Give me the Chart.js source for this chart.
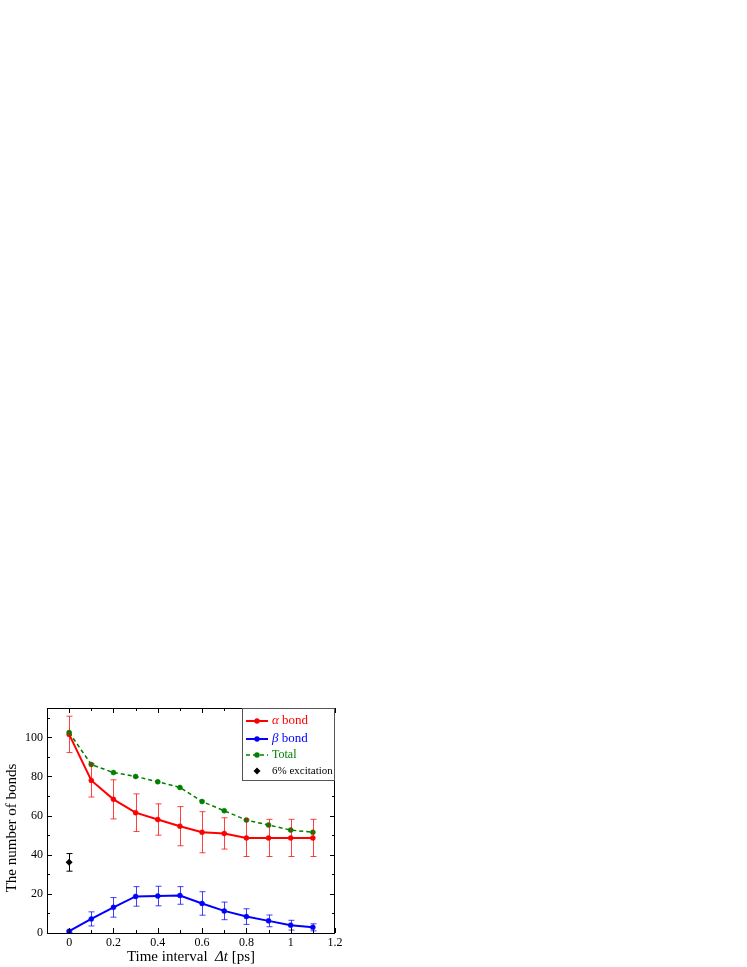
<!DOCTYPE html>
<html><head><meta charset="utf-8">
<script src="https://cdn.jsdelivr.net/npm/chart.js@4"></script>
<style>html,body{margin:0;padding:0;background:#fff}#c{position:absolute;left:0;top:0}</style>
</head><body><canvas id="c" width="747" height="967"></canvas>
<script>
// time interval [ps]
const dt=[0,0.1,0.2,0.3,0.4,0.5,0.6,0.7,0.8,0.9,1.0,1.1];
const alphaBond=[101.5,78,68.3,61.5,58,54.6,51.5,50.9,48.6,48.6,48.6,48.6];
const alphaErr=[9.3,8.5,10,9.6,8,10,10.5,8,9.5,9.5,9.5,9.5];
const betaBond=[0.9,7.2,13.1,18.7,18.9,19.2,15.1,11.3,8.4,6.2,4.0,2.9];
const betaErr=[0.5,3.6,5,5,5,4.5,6,4.5,4,3,2.5,1.8];
const totalBond=[102.5,86.1,82,80,77.3,74.4,67.2,62.5,57.7,55.2,52.6,51.5];
const excDt=[0],excVal=[36.1],excErr=[4.5];

const SERIF='"Liberation Serif","Times New Roman",serif';
const pts=(xs,ys)=>xs.map((x,i)=>({x,y:ys[i]}));

const errBars={
  id:'errBars',
  afterDatasetsDraw(ch){
    const {ctx,scales:{x,y}}=ch;
    ch.data.datasets.forEach(ds=>{
      if(!ds.err)return;
      ctx.save();ctx.strokeStyle=ds.errColor;ctx.lineWidth=1;
      ds.data.forEach((p,i)=>{
        const px=Math.round(x.getPixelForValue(p.x))+0.5;
        const y1=y.getPixelForValue(p.y+ds.err[i]),y2=y.getPixelForValue(p.y-ds.err[i]);
        ctx.beginPath();
        ctx.moveTo(px,y1);ctx.lineTo(px,y2);
        ctx.moveTo(px-3,y1);ctx.lineTo(px+3,y1);
        ctx.moveTo(px-3,y2);ctx.lineTo(px+3,y2);
        ctx.stroke();
      });
      ctx.restore();
    });
  }
};

const frame={
  id:'frame',
  afterDraw(ch){
    const {ctx,chartArea:a,scales:{x,y}}=ch;
    ctx.save();
    ctx.strokeStyle='#000';ctx.lineWidth=1;
    ctx.strokeRect(a.left+0.5,a.top+0.5,a.right-a.left-1,a.bottom-a.top);
    ctx.beginPath();
    for(let v=0;v<=12;v++){
      const px=Math.round(x.getPixelForValue(v/10))+0.5,len=v%2?3:5;
      ctx.moveTo(px,a.bottom);ctx.lineTo(px,a.bottom-len);
      ctx.moveTo(px,a.top);ctx.lineTo(px,a.top+len);
    }
    for(let v=0;v<=110;v+=10){
      const py=Math.round(y.getPixelForValue(v))+0.5,len=v%20?3:5;
      ctx.moveTo(a.left,py);ctx.lineTo(a.left+len,py);
      ctx.moveTo(a.right,py);ctx.lineTo(a.right-len,py);
    }
    ctx.stroke();

    // legend
    const L=242,T=708,R=335,B=780;
    ctx.fillStyle='#fff';ctx.fillRect(L,T,R-L,B-T);
    ctx.strokeStyle='#555';ctx.strokeRect(L+0.5,T+0.5,R-L-1,B-T);
    const items=[
      {g:'α',t:' bond',c:'#ff0000',ds:0,row:721,fs:13},
      {g:'β',t:' bond',c:'#0000ff',ds:1,row:739,fs:13},
      {g:'',t:'Total',c:'#008000',ds:2,row:755,fs:12},
      {g:'',t:'6% excitation',c:'#000',ds:3,row:771,fs:11}
    ];
    items.forEach(it=>{
      const ds=ch.data.datasets[it.ds];
      ctx.strokeStyle=ds.borderColor;ctx.fillStyle=ds.pointBackgroundColor;
      if(ds.showLine!==false){
        ctx.lineWidth=ds.borderWidth;ctx.setLineDash(ds.borderDash||[]);
        ctx.beginPath();ctx.moveTo(246,it.row);ctx.lineTo(268,it.row);ctx.stroke();
        ctx.setLineDash([]);
        ctx.beginPath();ctx.arc(257,it.row,2.7,0,Math.PI*2);ctx.fill();
      }else{
        ctx.beginPath();ctx.moveTo(257,it.row-3.5);ctx.lineTo(260.5,it.row);ctx.lineTo(257,it.row+3.5);ctx.lineTo(253.5,it.row);ctx.closePath();ctx.fill();
      }
      ctx.fillStyle=it.c;ctx.textBaseline='middle';ctx.textAlign='left';
      let tx=272;
      if(it.g){ctx.font='italic '+it.fs+'px '+SERIF;ctx.fillText(it.g,tx,it.row);tx+=ctx.measureText(it.g).width;}
      ctx.font=it.fs+'px '+SERIF;ctx.fillText(it.t,tx,it.row);
    });

    // axis titles
    ctx.fillStyle='#000';ctx.textBaseline='middle';
    const xc=(a.left+a.right)/2;
    const parts=[['Time interval  ',''],['Δt','italic '],[' [ps]','']];
    let w=0;parts.forEach(p=>{ctx.font=p[1]+'15px '+SERIF;w+=ctx.measureText(p[0]).width;});
    let tx=xc-w/2;ctx.textAlign='left';
    parts.forEach(p=>{ctx.font=p[1]+'15px '+SERIF;ctx.fillText(p[0],tx,957);tx+=ctx.measureText(p[0]).width;});
    ctx.translate(12,828);ctx.rotate(-Math.PI/2);
    ctx.textAlign='center';ctx.font='15px '+SERIF;
    ctx.fillText('The number of bonds',0,0);
    ctx.restore();
  }
};

new Chart(document.getElementById('c'),{
  type:'line',
  data:{datasets:[
    {label:'α bond',data:pts(dt,alphaBond),err:alphaErr,errColor:'rgba(255,0,0,0.75)',borderColor:'#ff0000',pointBackgroundColor:'#ff0000',pointBorderColor:'#ff0000',borderWidth:2,pointRadius:2.5,pointBorderWidth:0.5,order:2},
    {label:'β bond',data:pts(dt,betaBond),err:betaErr,errColor:'rgba(0,0,255,0.75)',borderColor:'#0000ff',pointBackgroundColor:'#0000ff',pointBorderColor:'#0000ff',borderWidth:2,pointRadius:2.5,pointBorderWidth:0.5,order:3},
    {label:'Total',data:pts(dt,totalBond),borderColor:'#008000',pointBackgroundColor:'#008000',pointBorderColor:'#008000',borderWidth:1.5,borderDash:[4,3],pointRadius:2.5,pointBorderWidth:0.5,order:1},
    {label:'6% excitation',data:pts(excDt,excVal),err:excErr,errColor:'#000',showLine:false,borderColor:'#000',pointBackgroundColor:'#000',pointBorderColor:'#000',pointStyle:'rectRot',pointRadius:3.5,pointBorderWidth:0,order:4}
  ]},
  options:{
    responsive:false,animation:false,devicePixelRatio:1,
    layout:{padding:{left:0,top:708,right:412,bottom:0}},
    plugins:{legend:{display:false},tooltip:{enabled:false}},
    elements:{line:{tension:0,fill:false}},
    scales:{
      x:{type:'linear',min:-0.1,max:1.2,
        grid:{display:false,drawTicks:false},border:{display:false},
        ticks:{stepSize:0.2,includeBounds:false,padding:3,color:'#000',font:{family:SERIF,size:12},
          callback:v=>String(+v.toFixed(1))},
        afterFit(s){s.height=34;}},
      y:{min:0,max:115,
        grid:{display:false,drawTicks:false},border:{display:false},
        ticks:{stepSize:20,includeBounds:false,padding:4,color:'#000',font:{family:SERIF,size:12}},
        afterFit(s){s.width=47;}}
    }
  },
  plugins:[errBars,frame]
});
</script></body></html>
